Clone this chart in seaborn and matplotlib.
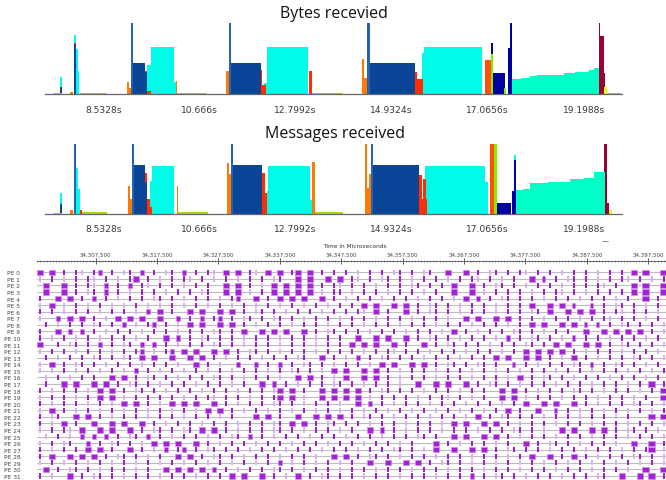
import matplotlib
matplotlib.use("Agg")
import matplotlib.pyplot as plt
from matplotlib.ticker import MultipleLocator
import seaborn as sns

# ---------------- bar panels (time in seconds, height in % of panel) ----------------
BAR_TICKS = [8.5328, 10.666, 12.7992, 14.9324, 17.0656, 19.1988]
BAR_TICK_LABELS = ["8.5328s", "10.666s", "12.7992s", "14.9324s", "17.0656s", "19.1988s"]
BAR_XLIM = (7.237, 20.053)

BYTES_START = [7.415, 7.577, 7.577, 7.793, 7.875, 7.875, 7.875, 7.919, 7.964, 8.015,
               9.066, 9.110, 9.148, 9.199, 9.459, 9.459, 9.510, 9.510, 9.586, 10.104,
               10.148, 10.177, 11.259, 11.332, 11.370, 12.030, 12.066, 12.104, 12.164, 13.110,
               13.170, 14.275, 14.333, 14.399, 14.452, 15.459, 15.510, 15.608, 15.666, 17.015,
               17.141, 17.141, 17.186, 17.437, 17.519, 17.570, 17.608, 17.800, 17.999, 18.163,
               18.500, 18.755, 19.000, 19.310, 19.420, 19.533, 19.570, 19.644, 19.644, 19.726]
BYTES_END = [7.615, 7.621, 7.621, 7.859, 7.919, 7.919, 7.919, 7.964, 7.999, 8.615,
             9.110, 9.148, 9.199, 9.459, 9.510, 9.510, 9.586, 9.586, 10.104, 10.148,
             10.177, 10.837, 11.332, 11.370, 12.030, 12.066, 12.141, 12.164, 13.088, 13.164,
             13.859, 14.333, 14.399, 14.452, 15.459, 15.510, 15.630, 15.666, 16.941, 17.141,
             17.186, 17.186, 17.459, 17.481, 17.570, 17.608, 17.800, 17.999, 18.163, 18.500,
             18.755, 19.000, 19.310, 19.420, 19.533, 19.570, 19.644, 19.681, 19.726, 20.037]
BYTES_VALUE = [2, 24, 10, 3, 83, 72, 70, 64, 33, 2,
               17, 9, 120, 43, 33, 31, 41, 4, 66, 17,
               18, 2, 32, 120, 43, 34, 12, 16, 66, 32,
               2, 49, 22, 120, 43, 31, 21, 58, 66, 48,
               72, 56, 30, 8, 65, 120, 21, 22, 25, 27,
               27, 30, 31, 34, 37, 120, 82, 29, 10, 1.5]
BYTES_COLOR = ["ygreen", "cyan", "navy", "orange", "cyan", "red", "navy", "cyan", "cyan", "ygreen",
               "orange", "orange", "blue", "navy", "red", "navy", "cyan", "red", "cyan", "cyan",
               "orange", "ygreen", "orange", "blue", "navy", "red", "red", "cyan", "cyan", "red",
               "ygreen", "orange", "orange", "blue", "navy", "red", "red", "cyan", "cyan", "orangered",
               "darknavy", "green", "darknavy", "green", "darknavy", "darknavy", "aqua", "aqua", "aqua", "aqua",
               "aqua", "aqua", "aqua", "aqua", "aqua", "crimson", "crimson", "crimson", "yellow", "ygreen"]

MSG_START = [7.415, 7.577, 7.577, 7.793, 7.875, 7.919, 7.970, 8.015, 8.052,
             9.075, 9.126, 9.164, 9.215, 9.459, 9.459, 9.510, 9.570, 9.570, 9.621,
             10.164, 10.199, 11.275, 11.332, 11.370, 11.421, 12.052, 12.088, 12.164, 12.199,
             13.126, 13.177, 13.237, 14.348, 14.386, 14.444, 14.481, 14.519, 15.555, 15.608,
             15.644, 15.681, 17.015, 17.110, 17.215, 17.275, 17.608, 17.659, 17.659, 17.704,
             17.850, 18.015, 18.400, 18.904, 19.200, 19.421, 19.644, 19.704, 19.770]
MSG_END = [7.615, 7.615, 7.615, 7.859, 7.919, 7.970, 8.015, 8.052, 8.615,
           9.126, 9.164, 9.215, 9.459, 9.510, 9.510, 9.570, 9.608, 9.621, 10.104,
           10.199, 10.859, 11.332, 11.370, 11.421, 12.052, 12.126, 12.164, 12.221, 13.126,
           13.177, 13.237, 13.859, 14.386, 14.444, 14.481, 14.519, 15.555, 15.608, 15.719,
           15.697, 17.015, 17.066, 17.199, 17.275, 17.586, 17.659, 17.704, 17.704, 17.850,
           18.015, 18.400, 18.904, 19.200, 19.421, 19.681, 19.719, 19.755, 19.830]
MSG_VALUE = [1, 30, 14, 6, 120, 66, 35, 6, 2,
             39, 21, 120, 70, 58, 45, 21, 9, 47, 68,
             40, 2, 73, 57, 120, 70, 58, 29, 33, 68,
             19, 74, 2, 120, 37, 57, 120, 70, 56, 21,
             49, 68, 46, 120, 120, 15, 33, 84, 77, 34,
             36, 44, 46, 50, 51, 60, 120, 16, 6]
MSG_COLOR = ["ygreen", "cyan", "navy", "orange", "blue", "cyan", "cyan", "red", "ygreen",
             "orange", "orange", "blue", "navy", "red", "navy", "red", "red", "cyan", "cyan",
             "orange", "ygreen", "orange", "orange", "blue", "navy", "red", "red", "cyan", "cyan",
             "cyan", "orange", "ygreen", "orange", "orange", "orange", "blue", "navy", "red", "red",
             "red", "cyan", "cyan", "orangered", "green", "darknavy", "darknavy", "cyan", "darknavy", "aqua",
             "aqua", "aqua", "aqua", "aqua", "aqua", "aqua", "crimson", "crimson", "yellow"]

PALETTE = {
    "navy": "#0b4598", "blue": "#2563b5", "cyan": "#00fbe8", "aqua": "#00ffc6",
    "orange": "#ff7b00", "red": "#ff2d00", "orangered": "#ff4f00", "darknavy": "#00009e",
    "green": "#7df000", "ygreen": "#a8dc00", "yellow": "#e4ff1a", "crimson": "#9b0030",
}

# ---------------- timeline (microseconds) ----------------
TL_START = 34297940
TL_END = 34400383
SLOT_US = 977  # one character of a row string
TIME_TICKS = [34307500, 34317500, 34327500, 34337500, 34347500,
              34357500, 34367500, 34377500, 34387500, 34397500]
PE_LABELS = ["PE %d" % k for k in range(32)]

# B = long event, b = short event, i = dark tick, l = light tick, . = idle
PE_ROWS = [
    "B.B.i.il.i b.i.li.b.i .li.b.i.il .B.B.il.B. B.iB.B.i.i .i.l.i.i.l i.i.li..B. .B.i.li.i. il.i.i.l.i .i.l.i.i.B .B..B",
    "l.i.l.i.il .i.l.iB.i. l.i.il.i.l .i.l.i.i.l i..B.B..B. B.il.i.li. i.l.i.i.l. i.il.i.l.i ..B.b.i.li .i.l.i.il. i.l.i",
    ".B..B.i.il .b.i.b.il. i.i.l.i.i. .B.B.i.l.B .B.B.B.i.i l.i.i.l.i. i.li.i.i.B ..B.i.li.i .l.i.i.l.i .i.il.i..B .B..B",
    ".B..B.i.li .b.i.l.i.i .l.i.i.li. .B.B.l.i.B .B.B.B.l.i i.l.i.i.l. i.i.l.i..B ..B.l.i.i. i.l.i.il.i .l.i.i.i.B .B..B",
    "i..B.B.i.b .i.l.i.i.l i.i.l.i.i. l.ib..B.i. B.B.B..B.i .l.i.i.l.i .i.l.i.i.l .B.b.i.li. i.i.l.i.i. l.i.i.l.i. .B.i.",
    "l.B.l.i.l. i.l.l.i.l. l.i.l.i.l. i.l.i.l.i. l.i.l.i.l. i.i.B.B..B .B.i.li.i. l.i.i.l.i. i.B..B.B.b ..b.i.li.i .l.i.",
    "i.i.l.i.i. l.i.i.l.b. B.i..B.B.. B.B.i.li.i .l.i.i.l.i .i.il.B.i. .B.i.li.i. l.i.i.l.i. i.li.B..B. B.B.i.il.i .i.l.",
    "l..b.B.B.i .l.B.B.B.. B..b.i.b.i b.i.li.i.l i.i.l.i.i. l.i.i.l.i. i.l.i.i.l. .B.B..B.B. i.i.l.i.i. l.i.il.i.i .l.i.",
    ".i.l.i.i.l i.i.b.l.ib .i.l.B.B.. B.B.i.l.i. i.l.i.i.l. i.i.l.i.i. l.i.i.l.i. i.l.i.i.l. i.B.B..B.B .b.b.i.li. i.i.l",
    "i..B.b.b.i .l.i.i.l.i .i.l.i.i.l i.i.B..B.B .B..B.i.li .i.i.l.i.i .l.i.i.l.B .i.l.i.i.l i.i.l.i.i. .B..B.B.B. B.i.l",
    "i.l.i.l.i. l.i.i.l.i. .B.b.i.li. i.i.l.i.i. l.i.i.l.i. i..B..B.B. .B.i.li.i. l.i.i.l.b. i.li.i.l.b .i.i.l.i.i .l.i.",
    "B..i.li.i. b.i.li.b.b .i.l.i.i.l i.i.l.i.i. l.i.i.l.i. i.B.B.B..B .i..B.i.li .i.i.l.i.i .li.i.B.B. .B.B.i.li. i.i.l",
    "l.i.i.l.i. i.l.i.ib.l .ib.B.B..B .B.i.li.i. l.i.i.l.i. i.i.l.i.il .i.i.l.i.i .l.i.i.l.i .B.B.B.B.i .l.i.i.l.i .i.l.",
    ".i.l.i.i.l i.i.li.B.B ..B..B.B.i .l.i.i.l.i .i.li..B.i .l.b.i.li. i.i.l.i.i. l.i.i.B.B. .B.B.i.l.B .i.l.i.i.l i.i.l",
    "l.B.i.li.i .l.i.i.l.i .i.l..B.i. l..b..b.i. b.i.li.i.l .i.i.l.B.B ..B.B.i.li .i.li.i..b .i.l.i.i.l i.b.i.li.i .l.i.",
    "l.l.i.l.i. l.i.l.b.i. l.i.l.i.l. i.l.i.i.l. i.li.i.l.B .B..B.B.i. l.i.i.l.i. i.l.i.l.i. l.i.i.l.i. i.l.i.i.l. i.l.i",
    ".l.i.l.i.i ..B.B.i.li .i.l.i.i.l i.i.l.i.i. l..B.B.i.l .B..B.B.i. l.i.i.l.i. i.l.i.i.l. B.i.li.i.l .i.i.l.i.i .l.i.",
    ".i..B.B..B .B.i.li.i. l.i.i.l.i. i.l.i..B.b .i.l.i.i.l i.i.l.i.i. l..B..B.B. .B.i.li.i. l.i.i.l.i. i.l.i.i.l. i.B.i",
    "i.l.i.i.l. B.B.i.li.i .l.i.i.l.i .i.l.i.i.l B.B.i..B.B .B.B.i.li. i.i.l.i.i. l.i.i..B.B .i.l.i.i.l i.i.l.i.i. l.i.B",
    "l.i.i.l.i. B.B.l.i.i. i.i.l.i.il .i.i.l.i.i B.B.l..B.B .B.B.l.i.i .i.l.i.il. i.l.i..B.B .l.i.i.l.i .i.l.i.i.l .i..B",
    "i.l.i.i.l. i.l.B.B.i. l.B.B.B..B .i.l.i.i.l i.i.l.i.i. l..B.b.i.l .i.i.l.i.i .l.i.i.l.i .B..B.B..B .i.l.i.i.l i.i.l",
    "l.B.i.l.i. l.i.l.i.l. i.l.i.l.B. B.i.l.i.l. i.l.i.l.i. l.i.l.i.l. i.l.i.l.i. l.i.l.i.B. i..B..b.i. l.i.l.i.l. i.l.i",
    "i.li..B.B. i.l.i.i.l. i.i.l.i.i. l.i...B.B. i..B..B.B. B.i.li.i.l .i.i.l.i.i .l.B.i.li. i.i.l.i.i. l.i.i.l.i. ..B.B",
    "i.l.B.i..B ..B.B..B.i .l.i.i.l.i .i.l.i.i.l i.B.B.i.li .i.i.l.i.i .l.i.i.l.B .B..B.B.i. l.i.i.l.i. i.l.i.i.l. i.i.l",
    "l.i.il.B.. B.B..B.i.l i.i.li.B.B .i.l.i.i.l i.i.l.i.i. l.i..B.b.i .l.i.i.l.i .i.l.i.i.l i.i.l..B.B ..B.B.i.li .i.l.",
    ".l.i.l.b.b .b.i.li.b. i.l.i.i.l. i.li.b.i.l .i.i.l.i.i .l.i.i.l.i .i.li.i..B .B..B.B.i. l.i.i.l.i. i.l.i.i.l. i.i.l",
    "l.i.li..b. i.li.i.l.B .B.B..B.i. l.i.i.l.i. i.l.i.i.l. i.i.l.i.i. l.i...B.i. l.i.i.l.i. .B.i.li.i. l.i.i.l..B ..B.i",
    "i.l.i.i.B. B.i..B.i.l .b.ib.i.li .i.i.l.i.i .l.i.i.l.i .i.l.i.i.l i.i.l.B..B ..B.B.i.li .i.i.l.i.i .l.i.i.l.i .iB.l",
    "i.B..B.B.B .i.li.i.l. i..B.B.i.l i.i.l.i.i. l.i.i.l..B .B.i.li.i. l.i.i.l.i. i.l.i.i.l. i.B..B.i.B .i.l.i.i.l i.i.l",
    "l.i.l.i.l. i.l.i.l.i. l.i.l.i.l. i.l.i.l.i. b.l.i.l.i. l.i..B..B. .B.B.i.li. i.l.i.l.i. l.i.l.i.l. i.l.i.l.i. l.i.l",
    ".B.i.li.i. l.i.i.l.i. .B.B.B.B.b .i.l.i.i.l i.i.l.i.i. l.i.i.l.i. i.l.i.i.l. i.i.l.i.i. l.i.i.l.i. i.l.i.i.l. .B..B",
    "i.l..B.i.l i.i.l.i.i. l.i.i.l.i. i.B.B..B.i .l.B.i.li. i.i.l.i.i. l.i.i.l.i. i.b.i.li.i .l.i.i.l.i .i.li..B.. B.B.i",
]

sns.set_style("white")
plt.rcParams["font.family"] = ["DejaVu Sans"]

fig = plt.figure(figsize=(6.66, 4.81), dpi=100)
W, H = 666.0, 481.0


def draw_bars(ax, starts, ends, values, colors):
    # tallest first so that shorter series stack visually on top of them
    order = sorted(range(len(values)), key=lambda k: -values[k])
    for k in order:
        ax.bar(starts[k], values[k], width=ends[k] - starts[k], align="edge",
               color=PALETTE[colors[k]], linewidth=0)
    ax.set_xlim(*BAR_XLIM)
    ax.set_ylim(0, 100)
    ax.set_yticks([])
    ax.set_xticks(BAR_TICKS, labels=BAR_TICK_LABELS)
    ax.xaxis.set_minor_locator(MultipleLocator(0.42664))
    ax.tick_params(axis="x", which="major", length=4.5, width=0.8, color="#555555",
                   labelsize=6.6, labelcolor="#3a3a3a", pad=3.2)
    ax.tick_params(axis="x", which="minor", length=2.5, width=0.7, color="#555555")
    sns.despine(ax=ax, left=True, top=True, right=True)
    ax.spines["bottom"].set_color("#666666")
    ax.spines["bottom"].set_linewidth(0.9)
    ax.patch.set_alpha(0)


ax1 = fig.add_axes([45 / W, (H - 95) / H, 577 / W, 71 / H])
draw_bars(ax1, BYTES_START, BYTES_END, BYTES_VALUE, BYTES_COLOR)
ax2 = fig.add_axes([45 / W, (H - 214.7) / H, 577 / W, 70 / H])
draw_bars(ax2, MSG_START, MSG_END, MSG_VALUE, MSG_COLOR)

fig.text(334 / W, 1 - 14 / H, "Bytes recevied", ha="center", va="center",
         fontsize=11.5, family=["Open Sans", "DejaVu Sans"], color="#111111")
fig.text(335 / W, 1 - 134 / H, "Messages received", ha="center", va="center",
         fontsize=11.5, family=["Open Sans", "DejaVu Sans"], color="#111111")
fig.text(605 / W, 1 - 241 / H, "\u2014", ha="center", va="center", fontsize=5, color="#222222")

# ---------------- timeline ----------------
ax3 = fig.add_axes([37 / W, 0, 629 / W, 219 / H])
ax3.hlines(range(len(PE_ROWS)), TL_START, TL_END, color="#bdbdbd", linewidth=0.8, zorder=0)

marks = {"B": ([], []), "b": ([], []), "i": ([], []), "l": ([], [])}
for r, row in enumerate(PE_ROWS):
    for i, ch in enumerate(row.replace(" ", "")):
        if ch in marks:
            marks[ch][0].append(r)
            marks[ch][1].append(TL_START + (i + 0.5) * SLOT_US)

mark_style = {
    "B": dict(width=1100, color="#a422d4", edgecolor="#cc8cec", linewidth=0.5),
    "b": dict(width=520, color="#a422d4", edgecolor="#cc8cec", linewidth=0.4),
    "i": dict(width=260, color="#9b20d0", linewidth=0),
    "l": dict(width=260, color="#dab0f2", linewidth=0),
}
for ch in ["l", "i", "b", "B"]:
    ys, xs = marks[ch]
    st = mark_style[ch]
    w = st.pop("width")
    ax3.barh(ys, [w] * len(xs), left=[x - w / 2 for x in xs], height=0.8, zorder=2, **st)

ax3.set_xlim(TL_START, TL_END)
ax3.set_ylim(31.61, -1.72)
ax3.xaxis.tick_top()
ax3.set_xticks(TIME_TICKS, labels=["{:,}".format(t) for t in TIME_TICKS])
ax3.xaxis.set_minor_locator(MultipleLocator(500))
ax3.tick_params(axis="x", which="major", direction="inout", length=4, width=0.6,
                color="#444444", labelsize=4, labelcolor="#444444", pad=1)
ax3.tick_params(axis="x", which="minor", direction="inout", length=2, width=0.4, color="#555555")
ax3.set_yticks(range(len(PE_LABELS)), labels=PE_LABELS)
ax3.tick_params(axis="y", length=0, labelsize=4.2, labelcolor="#444444", pad=12)
for side in ["left", "right", "bottom"]:
    ax3.spines[side].set_visible(False)
ax3.spines["top"].set_color("#555555")
ax3.spines["top"].set_linewidth(0.6)
fig.text(355 / W, 1 - 247 / H, "Time in Microseconds", ha="center", va="center",
         fontsize=4.2, color="#333333")

fig.savefig("out.png", dpi=100)
